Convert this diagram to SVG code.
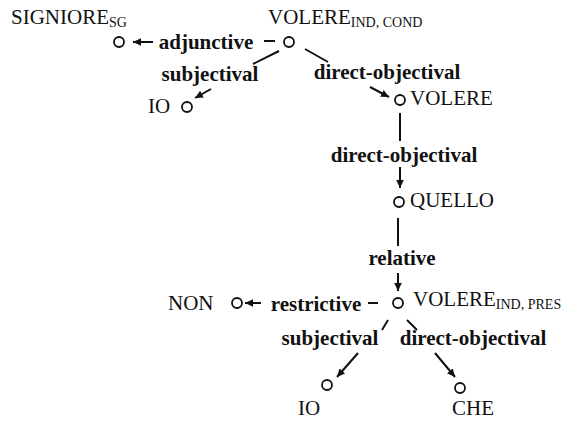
<svg xmlns="http://www.w3.org/2000/svg" width="566" height="421" viewBox="0 0 566 421">
<style>
.w{font-family:"Liberation Serif","Times New Roman",serif;font-size:21px;fill:#111}
.s{font-family:"Liberation Serif","Times New Roman",serif;font-size:14px;fill:#111}
.b{font-family:"Liberation Serif","Times New Roman",serif;font-size:21px;font-weight:bold;fill:#111}
.n{fill:#fff;stroke:#111;stroke-width:1.8}
.e{stroke:#111;stroke-width:2;fill:none}
.a{stroke:#111;stroke-width:2;fill:none;marker-end:url(#h)}
</style>
<defs>
<marker id="h" markerUnits="userSpaceOnUse" markerWidth="10" markerHeight="10" viewBox="0 0 10 10" refX="8" refY="5" orient="auto">
<path d="M0,1.2 L8,5 L0,8.8 Z" fill="#111"/>
</marker>
</defs>
<rect width="566" height="421" fill="#fff"/>
<g id="connectors">
<line class="e" x1="264" y1="41" x2="275" y2="41"/>
<line class="a" x1="153" y1="42" x2="133" y2="42"/>
<line class="e" x1="279" y1="51" x2="253" y2="64"/>
<line class="a" x1="211" y1="89" x2="195" y2="98"/>
<line class="e" x1="305" y1="49" x2="328" y2="62"/>
<line class="a" x1="370" y1="87" x2="389" y2="97"/>
<line class="e" x1="400" y1="113" x2="400" y2="141"/>
<line class="a" x1="400" y1="167" x2="400" y2="188"/>
<line class="e" x1="398" y1="218" x2="398" y2="246"/>
<line class="a" x1="398" y1="273" x2="398" y2="291"/>
<line class="e" x1="368" y1="303" x2="378" y2="303"/>
<line class="a" x1="261" y1="303" x2="245" y2="303"/>
<line class="e" x1="388" y1="320" x2="382" y2="330"/>
<line class="a" x1="358" y1="353" x2="337" y2="377"/>
<line class="e" x1="407" y1="320" x2="417" y2="330"/>
<line class="a" x1="435" y1="353" x2="455" y2="377"/>
<text class="b" x="206" y="49" text-anchor="middle">adjunctive</text>
<text class="b" x="210" y="81" text-anchor="middle">subjectival</text>
<text class="b" x="387" y="79" text-anchor="middle">direct-objectival</text>
<text class="b" x="404" y="162" text-anchor="middle">direct-objectival</text>
<text class="b" x="402" y="265" text-anchor="middle">relative</text>
<text class="b" x="316" y="311" text-anchor="middle">restrictive</text>
<text class="b" x="330" y="345" text-anchor="middle">subjectival</text>
<text class="b" x="473" y="345" text-anchor="middle">direct-objectival</text>
</g>
<g id="volere-cond">
<circle class="n" cx="289" cy="42" r="5"/>
<text class="w" x="268" y="24">VOLERE<tspan class="s" dy="3">IND, COND</tspan></text>
</g>
<g id="signiore">
<circle class="n" cx="119" cy="42" r="5"/>
<text class="w" x="11" y="24">SIGNIORE<tspan class="s" dy="3">SG</tspan></text>
</g>
<g id="io-top">
<circle class="n" cx="187" cy="107" r="5"/>
<text class="w" x="148" y="113">IO</text>
</g>
<g id="volere">
<circle class="n" cx="400" cy="100" r="5"/>
<text class="w" x="410" y="105">VOLERE</text>
</g>
<g id="quello">
<circle class="n" cx="399" cy="202" r="5"/>
<text class="w" x="410" y="207">QUELLO</text>
</g>
<g id="volere-pres">
<circle class="n" cx="398" cy="303" r="5"/>
<text class="w" x="413" y="306">VOLERE<tspan class="s" dy="3">IND, PRES</tspan></text>
</g>
<g id="non">
<circle class="n" cx="237" cy="303" r="5"/>
<text class="w" x="168" y="310">NON</text>
</g>
<g id="io-bottom">
<circle class="n" cx="327" cy="385" r="5"/>
<text class="w" x="298" y="415">IO</text>
</g>
<g id="che">
<circle class="n" cx="460" cy="388" r="5"/>
<text class="w" x="452" y="415">CHE</text>
</g>
</svg>
